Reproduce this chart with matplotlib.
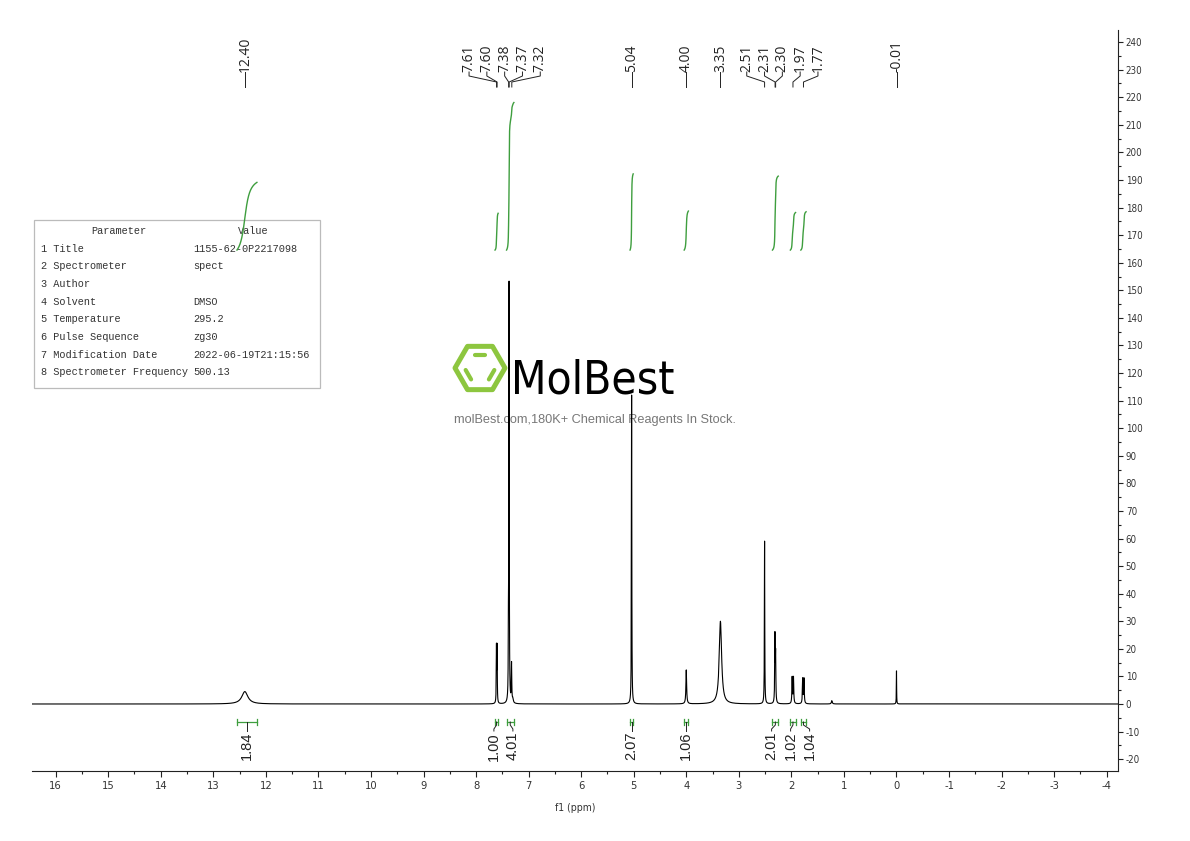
"""
1H NMR spectrum (500 MHz, DMSO) redrawn from the MolBest data sheet.
Peaks, shift labels and integrals are read off the original picture.
"""

import os
import numpy as np
import matplotlib.pyplot as plt
from matplotlib import font_manager
from matplotlib.font_manager import FontProperties
from matplotlib.patches import Rectangle, RegularPolygon
from matplotlib.ticker import MultipleLocator
from matplotlib.transforms import blended_transform_factory

plt.rcParams['axes.unicode_minus'] = False

W, H = 1190, 841

# spectrum lines: position (ppm), height, half width (ppm)
PEAK_PPM    = [12.40, 7.612, 7.600, 7.383, 7.372, 7.325, 7.30, 5.040, 4.000,
               3.350, 2.510, 2.313, 2.300, 1.985, 1.960, 1.785, 1.760, 1.230, 0.000]
PEAK_HEIGHT = [4.5, 20, 20, 28, 150, 14, 1.5, 112, 12.3,
               30, 59, 24, 17, 9.5, 9.5, 9, 9, 1.2, 12]
PEAK_HWHM   = [0.07, 0.004, 0.004, 0.004, 0.004, 0.005, 0.01, 0.004, 0.008,
               0.027, 0.004, 0.005, 0.005, 0.006, 0.006, 0.006, 0.006, 0.01, 0.003]

# chemical shift labels along the top
SHIFT_LABELS = [12.40, 7.61, 7.60, 7.38, 7.37, 7.32, 5.04, 4.00, 3.35,
                2.51, 2.31, 2.30, 1.97, 1.77, -0.01]

# integration regions and values
INT_FROM  = [12.55, 7.64, 7.42, 5.07, 4.04, 2.36, 2.02, 1.82]
INT_TO    = [12.17, 7.58, 7.28, 5.01, 3.96, 2.25, 1.92, 1.72]
INT_VALUE = [1.84, 1.00, 4.01, 2.07, 1.06, 2.01, 1.02, 1.04]

PARAM_NAMES  = ['1 Title', '2 Spectrometer', '3 Author', '4 Solvent', '5 Temperature',
                '6 Pulse Sequence', '7 Modification Date', '8 Spectrometer Frequency']
PARAM_VALUES = ['1155-62-0P2217098', 'spect', '', 'DMSO', '295.2',
                'zg30', '2022-06-19T21:15:56', '500.13']

X_TICKS = list(range(-4, 17))
Y_TICKS = list(range(-20, 241, 10))

GREEN = '#3e9e3e'
INT_BASE, INT_SCALE = 164.6, 13.34     # integral curves: base level, height per unit


def spread(pos, gap):
    """Push label positions apart so neighbours are at least `gap` apart."""
    groups = [[i] for i in np.argsort(pos)]
    centre = lambda g: np.mean([pos[i] for i in g])
    merged = True
    while merged:
        merged = False
        for k in range(len(groups) - 1):
            a, b = groups[k], groups[k + 1]
            if (centre(b) - (len(b) - 1) * gap / 2) - (centre(a) + (len(a) - 1) * gap / 2) < gap:
                groups[k] = a + b
                del groups[k + 1]
                merged = True
                break
    out = np.empty(len(pos))
    for g in groups:
        c = centre(g)
        for j, i in enumerate(g):
            out[i] = c + (j - (len(g) - 1) / 2) * gap
    return out


def narrow_font():
    """Pick the narrowest regular sans face that is installed."""
    files = {os.path.basename(f.fname): f.fname for f in font_manager.fontManager.ttflist}
    for want in ('NotoSans-ExtraCondensed.ttf', 'NotoSans-Condensed.ttf',
                 'LiberationSansNarrow-Regular.ttf', 'DejaVuSansCondensed.ttf'):
        if want in files:
            return FontProperties(fname=files[want]), want
    for name, path in sorted(files.items()):
        low = name.lower()
        if ('condensed' in low or 'narrow' in low) and 'sans' in low and not any(
                s in low for s in ('bold', 'italic', 'oblique', 'light', 'thin', 'black',
                                   'medium', 'semi', 'extrabold')):
            return FontProperties(fname=path), name
    return FontProperties(family='DejaVu Sans'), 'DejaVuSans.ttf'


narrow, narrow_name = narrow_font()
very_narrow = 'ExtraCondensed' in narrow_name or 'Narrow' in narrow_name

fig = plt.figure(figsize=(W / 100, H / 100), dpi=100)
deco = fig.add_axes([0, 0, 1, 1], zorder=0)
deco.set_xlim(0, W)
deco.set_ylim(H, 0)
deco.axis('off')

left, right, top, bottom = 32, 1118, 30, 771
ax = fig.add_axes([left / W, 1 - bottom / H, (right - left) / W, (bottom - top) / H], zorder=1)
ax.set_facecolor('none')

# spectrum
x = np.linspace(-4.3, 16.6, 60000)
y = np.zeros_like(x)
for p, h, g in zip(PEAK_PPM, PEAK_HEIGHT, PEAK_HWHM):
    y += h / (1 + ((x - p) / g) ** 2)
ax.plot(x, y, color='black', lw=0.8)

ax.set_xlim(16.45, -4.215)
ax.set_ylim(-24.3, 244.4)

# integral curves
for a, b, v in zip(INT_FROM, INT_TO, INT_VALUE):
    m = (x <= a) & (x >= b)
    xs, ys = x[m][::-1], y[m][::-1]
    cum = np.cumsum(ys)
    cum = cum / cum[-1]
    ax.plot(xs, INT_BASE + v * INT_SCALE * cum, color=GREEN, lw=1.0)

fy = lambda py: (bottom - py) / (bottom - top)   # pixel row -> axes fraction
tr = blended_transform_factory(ax.transData, ax.transAxes)
ppm_px = (right - left) / (16.45 + 4.215)

# shift labels at the top
lab_x = -spread([-v for v in SHIFT_LABELS], 17.8 / ppm_px)
for v, lx in zip(SHIFT_LABELS, lab_x):
    ax.text(lx, fy(72), f'{v:.2f}', rotation=90, ha='center', va='bottom',
            fontsize=10, family='Open Sans', color='#222222', transform=tr, clip_on=False)
    ax.plot([lx, lx, v, v], [fy(72), fy(76), fy(82), fy(87)], color='#222222',
            lw=0.7, transform=tr, clip_on=False)

# integration marks and values at the bottom
centres = [(a + b) / 2 for a, b in zip(INT_FROM, INT_TO)]
int_x = -spread([-c for c in centres], 19 / ppm_px)
for a, b, c, v, lx in zip(INT_FROM, INT_TO, centres, INT_VALUE, int_x):
    ax.plot([a, b], [fy(722), fy(722)], color=GREEN, lw=0.9, transform=tr)
    for e in (a, b):
        ax.plot([e, e], [fy(719), fy(725)], color=GREEN, lw=0.9, transform=tr)
    ax.plot([lx, lx, c, c], [fy(731), fy(729), fy(725), fy(722)], color='#222222',
            lw=0.7, transform=tr)
    ax.text(lx, fy(732), f'{v:.2f}', rotation=90, ha='center', va='top',
            fontsize=10.5, family='Liberation Sans', color='#222222', transform=tr)

# axes styling
for s in ('left', 'top'):
    ax.spines[s].set_visible(False)
for s in ('right', 'bottom'):
    ax.spines[s].set_linewidth(0.8)
    ax.spines[s].set_color('#222222')
ax.yaxis.tick_right()
ax.set_xticks(X_TICKS)
ax.set_xticklabels([str(t) for t in X_TICKS], fontproperties=narrow,
                   fontsize=9 if very_narrow else 8, color='#333333')
ax.xaxis.set_minor_locator(MultipleLocator(0.5))
ax.set_yticks(Y_TICKS)
ax.set_yticklabels([str(t) for t in Y_TICKS], fontproperties=narrow,
                   fontsize=8 if very_narrow else 7, color='#333333')
ax.yaxis.set_minor_locator(MultipleLocator(5))
ax.tick_params(axis='x', which='major', length=4.5, width=0.8, pad=3, color='#222222')
ax.tick_params(axis='x', which='minor', length=2.2, width=0.8, color='#222222')
ax.tick_params(axis='y', which='major', length=3.6, width=0.8, pad=2, color='#222222')
ax.tick_params(axis='y', which='minor', length=2.0, width=0.8, color='#222222')
ax.set_xlabel('f1 (ppm)', fontproperties=narrow, fontsize=7.5, color='#333333')
ax.xaxis.set_label_coords(0.5, -0.043)

# parameter table
deco.add_patch(Rectangle((34, 220), 286, 168, fill=False, ec='#bbbbbb', lw=0.9))
mono = dict(family='Liberation Mono', fontsize=7.4, color='#333333', va='center')
deco.text(119, 231, 'Parameter', ha='center', **mono)
deco.text(253, 231, 'Value', ha='center', **mono)
for k, (n, v) in enumerate(zip(PARAM_NAMES, PARAM_VALUES)):
    yy = 248.5 + 17.7 * k
    deco.text(41, yy, n, ha='left', **mono)
    deco.text(193, yy, v, ha='left', **mono)

# MolBest watermark
cx, cy, r = 480, 368, 25
deco.add_patch(RegularPolygon((cx, cy), 6, radius=r, orientation=np.pi / 6, fill=False,
                              ec='#8dc63f', lw=3.6, joinstyle='round'))
ri = 15.5
for a0, a1 in ((60, 120), (180, 240), (300, 360)):
    p0 = np.array([cx + ri * np.cos(np.radians(a0)), cy - ri * np.sin(np.radians(a0))])
    p1 = np.array([cx + ri * np.cos(np.radians(a1)), cy - ri * np.sin(np.radians(a1))])
    q0, q1 = p0 + 0.15 * (p1 - p0), p1 - 0.15 * (p1 - p0)
    deco.plot([q0[0], q1[0]], [q0[1], q1[1]], color='#8dc63f', lw=3, solid_capstyle='round')
logo_fp = narrow.copy()
logo_fp.set_size(40 if very_narrow else (33 if 'Condensed' in narrow_name else 29))
deco.text(511, 393, 'MolBest', ha='left', va='baseline', fontproperties=logo_fp, color='black')
deco.text(595, 420, 'molBest.com,180K+ Chemical Reagents In Stock.', ha='center', va='center',
          family='Liberation Sans', fontsize=9.2, color='#777777')

fig.savefig('out.png', dpi=100)
